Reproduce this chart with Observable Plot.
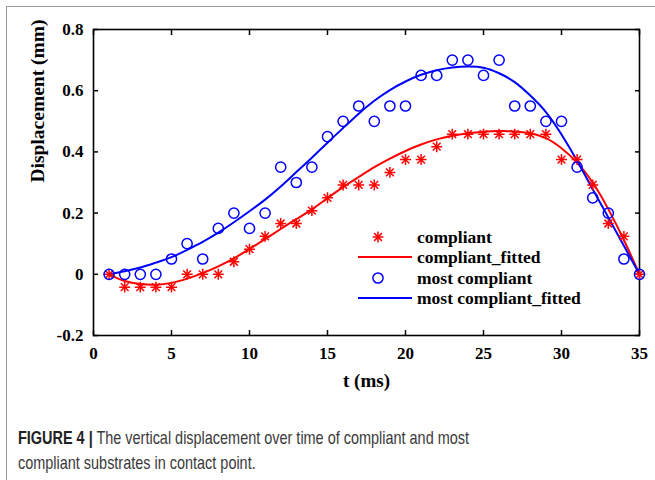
<!DOCTYPE html>
<html><head><meta charset="utf-8">
<script src="https://cdn.jsdelivr.net/npm/d3@7"></script>
<script src="https://cdn.jsdelivr.net/npm/@observablehq/plot@0.6"></script>
<style>
body{margin:0;background:#fff;}
#wrap{position:relative;width:655px;height:480px;overflow:hidden;background:#fff;}
#border{position:absolute;left:6px;top:6px;width:800px;height:800px;border-left:1.5px solid #9a9a9a;border-top:1.5px solid #9a9a9a;}
#chart{position:absolute;left:0;top:0;}
#legend{position:absolute;left:0;top:0;width:655px;height:400px;pointer-events:none;}
#caption{position:absolute;left:18px;top:425px;font-family:"Liberation Sans",Arial,sans-serif;font-size:19px;line-height:25px;color:#3a3a3a;white-space:nowrap;}
#caption .ln{display:block;transform-origin:0 50%;width:max-content;}
#caption b{color:#222;}
</style></head>
<body>
<div id="wrap">
<div id="border"></div>
<div id="chart"></div>
<svg id="legend" width="655" height="400"></svg>
<div id="caption"><span class="ln" id="cap1"><b>FIGURE 4 |</b> The vertical displacement over time of compliant and most</span><span class="ln" id="cap2">compliant substrates in contact point.</span></div>
</div>
<script>
const t = [1,2,3,4,5,6,7,8,9,10,11,12,13,14,15,16,17,18,19,20,21,22,23,24,25,26,27,28,29,30,31,32,33,34,35];
const compliant = [0,-0.042,-0.042,-0.042,-0.042,0,0,0,0.041,0.082,0.124,0.166,0.166,0.208,0.25,0.292,0.292,0.292,0.333,0.375,0.375,0.417,0.458,0.458,0.458,0.458,0.458,0.458,0.458,0.375,0.375,0.292,0.166,0.124,0];
const compliantFitted = [0,-0.022,-0.032,-0.034,-0.028,-0.014,0.004,0.026,0.052,0.083,0.115,0.148,0.18,0.212,0.249,0.285,0.318,0.35,0.378,0.403,0.424,0.441,0.453,0.461,0.466,0.468,0.467,0.461,0.445,0.412,0.365,0.3,0.213,0.112,0];
const mostCompliant = [0,0,0,0,0.05,0.1,0.05,0.15,0.2,0.15,0.2,0.35,0.3,0.35,0.45,0.5,0.55,0.5,0.55,0.55,0.65,0.65,0.7,0.7,0.65,0.7,0.55,0.55,0.5,0.5,0.35,0.25,0.2,0.05,0];
const mostCompliantFitted = [0,0.01,0.022,0.038,0.056,0.08,0.106,0.136,0.17,0.206,0.244,0.287,0.334,0.381,0.43,0.478,0.525,0.567,0.602,0.63,0.652,0.667,0.676,0.679,0.675,0.657,0.628,0.584,0.53,0.457,0.371,0.278,0.186,0.093,0];
const xTicks = [0,5,10,15,20,25,30,35];
const yTicks = [-0.2,0,0.2,0.4,0.6,0.8];
const yTickLabels = ["-0.2","0","0.2","0.4","0.6","0.8"];
const seriesNames = ["compliant","compliant_fitted","most compliant","most compliant_fitted"];
const xLabel = "t (ms)";
const yLabel = "Displacement (mm)";

const rows = t.map((ti,i)=>({t:ti,c:compliant[i],cf:compliantFitted[i],m:mostCompliant[i],mf:mostCompliantFitted[i]}));
const RED = "#ff0000", BLUE = "#0000ff";
const serif = "'Liberation Serif','Times New Roman',serif";
const STAR_R = 3.6, CIRC_R = 5.1;

const chart = Plot.plot({
  width:655, height:400,
  marginLeft:93, marginRight:16, marginTop:29, marginBottom:65,
  style:{fontFamily:serif, fontWeight:"bold", fontSize:"17px", color:"#000", background:"transparent"},
  x:{domain:[0,35]},
  y:{domain:[-0.2,0.8]},
  marks:[
    Plot.axisX({ticks:xTicks, anchor:"bottom", tickSize:-5, tickPadding:16, strokeWidth:1.5, label:null, tickFormat:d=>String(d)}),
    Plot.axisX({ticks:xTicks, anchor:"top", tickSize:-5, strokeWidth:1.5, label:null, tickFormat:()=>""}),
    Plot.axisY({ticks:yTicks, anchor:"left", tickSize:-5, tickPadding:15, strokeWidth:1.5, label:null, tickFormat:d=>yTickLabels[yTicks.indexOf(d)]}),
    Plot.axisY({ticks:yTicks, anchor:"right", tickSize:-5, strokeWidth:1.5, label:null, tickFormat:()=>""}),
    Plot.frame({stroke:"#000", strokeWidth:1.6}),
    Plot.text([xLabel], {frameAnchor:"bottom", dy:51, fontSize:19, fontWeight:"bold", fill:"#000"}),
    Plot.text([yLabel], {frameAnchor:"left", dx:-56, rotate:-90, fontSize:19.5, fontWeight:"bold", fill:"#000"}),
    Plot.line(rows,{x:"t", y:"cf", stroke:RED, strokeWidth:2, curve:"natural"}),
    Plot.line(rows,{x:"t", y:"mf", stroke:BLUE, strokeWidth:2, curve:"natural"}),
    Plot.dot(rows,{x:"t", y:"c", symbol:"plus", r:STAR_R, stroke:RED, strokeWidth:1.5}),
    Plot.dot(rows,{x:"t", y:"c", symbol:"times", r:STAR_R, stroke:RED, strokeWidth:1.5}),
    Plot.dot(rows,{x:"t", y:"m", symbol:"circle", r:CIRC_R, stroke:BLUE, strokeWidth:1.5, fill:"none"})
  ]
});
document.getElementById("chart").appendChild(chart);

// legend
const lg = d3.select("#legend");
const rowsY = [237,257,278,298];
const kinds = ["star","line-red","circle","line-blue"];
kinds.forEach((k,i)=>{
  const y = rowsY[i];
  if (k==="star") {
    const s = d3.symbol().size(Math.PI*STAR_R*STAR_R);
    lg.append("path").attr("d", s.type(d3.symbolPlus)()).attr("transform",`translate(378,${y})`).attr("stroke",RED).attr("stroke-width",1.5).attr("fill","none");
    lg.append("path").attr("d", s.type(d3.symbolTimes)()).attr("transform",`translate(378,${y})`).attr("stroke",RED).attr("stroke-width",1.5).attr("fill","none");
  } else if (k==="circle") {
    lg.append("circle").attr("cx",378).attr("cy",y).attr("r",CIRC_R).attr("stroke",BLUE).attr("stroke-width",1.5).attr("fill","none");
  } else {
    lg.append("line").attr("x1",358).attr("x2",412).attr("y1",y).attr("y2",y).attr("stroke",k==="line-red"?RED:BLUE).attr("stroke-width",2);
  }
  lg.append("text").attr("x",417).attr("y",y).attr("dy","0.33em").attr("font-family",serif).attr("font-weight","bold").attr("font-size",17.5).attr("fill","#000").text(seriesNames[i]);
});

// condense caption to match the narrow journal face
const c1 = document.getElementById("cap1"), c2 = document.getElementById("cap2");
const w1 = c1.getBoundingClientRect().width;
const k = 451 / w1;
[c1,c2].forEach(el=>el.style.transform = `scaleX(${k})`);
</script>
</body></html>
